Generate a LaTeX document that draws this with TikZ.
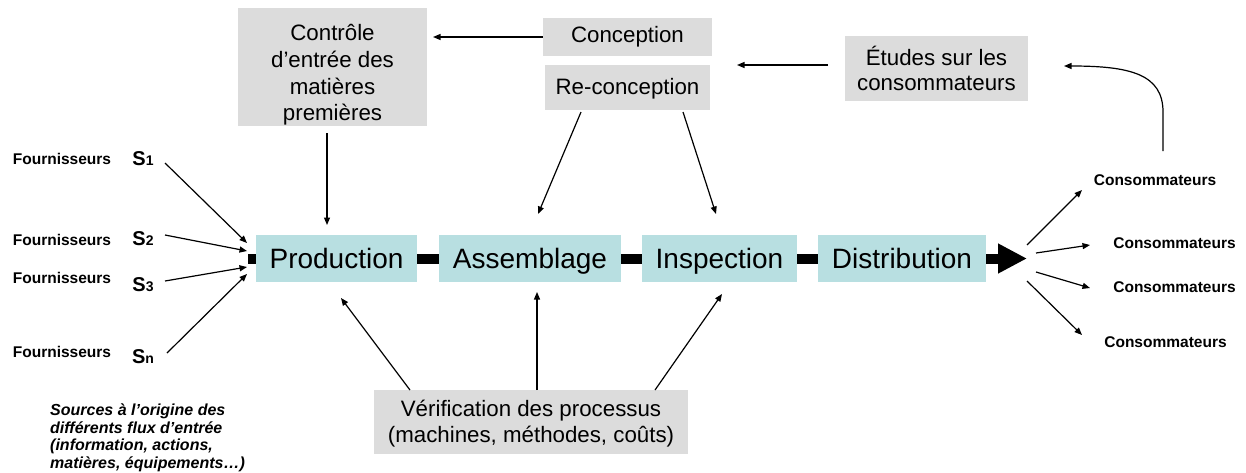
\documentclass[tikz,border=0pt]{standalone}
\usepackage{fontspec}
\setmainfont{Liberation Sans}
\usetikzlibrary{arrows.meta}
\definecolor{boxteal}{HTML}{B8DFE1}
\definecolor{boxgray}{HTML}{DCDCDC}
\begin{document}
\begin{tikzpicture}[x=1pt,y=-1pt,
  gbox/.style={fill=boxgray, inner sep=0pt, align=center, font=\fontsize{22.3}{26}\selectfont},
  tbox/.style={fill=boxteal, inner sep=0pt, minimum height=47pt, text height=22pt, text depth=2pt, font=\fontsize{28}{32}\selectfont},
  lbl/.style={inner sep=0pt, font=\fontsize{15.5}{18}\selectfont\bfseries},
  slbl/.style={inner sep=0pt},
  arr/.style={-{Triangle[length=7.5pt,width=6pt]}, line width=1.2pt},
  bar/.style={line width=10pt},
  bigarrow/.style={line width=10pt, -{Triangle[length=29pt,width=28pt]}}]
\useasboundingbox (0,0) rectangle (1246,472);

% top gray boxes
\node[gbox, minimum width=189pt, minimum height=118pt, font=\fontsize{22.3}{26.7}\selectfont] (ctrl) at (332.5,67) {\rule{0pt}{32pt}Contrôle\\d’entrée des\\matières\\premières};
\node[gbox, minimum width=169pt, minimum height=38pt] (conc) at (627.5,37) {Conception};
\node[gbox, minimum width=165pt, minimum height=45pt] (reconc) at (627.5,87.5) {\rule{0pt}{18pt}Re-conception};
\node[gbox, minimum width=183pt, minimum height=65pt, font=\fontsize{22.3}{25}\selectfont] (etud) at (936.5,68.5) {Études sur les\\consommateurs};
\node[gbox, minimum width=314pt, minimum height=64pt, font=\fontsize{22.3}{26.5}\selectfont] (verif) at (531,422) {\rule{0pt}{20pt}Vérification des processus\\(machines, méthodes, coûts)};

% process boxes
\node[tbox, minimum width=161pt] (prod) at (336.5,258.5) {Production};
\node[tbox, minimum width=182pt] (asm) at (530,258.5) {Assemblage};
\node[tbox, minimum width=155pt] (insp) at (719.5,258.5) {Inspection};
\node[tbox, minimum width=168pt] (dist) at (902,258.5) {Distribution};

% thick flow
\coordinate (stub) at (248,258.5);
\coordinate (tipR) at (1027,258.5);
\draw[bar] (stub) -- (prod.west);
\draw[bar] (prod.east) -- (asm.west);
\draw[bar] (asm.east) -- (insp.west);
\draw[bar] (insp.east) -- (dist.west);
\draw[bigarrow] (dist.east) -- (tipR);

% suppliers
\node[lbl] (f1) at (62,159) {Fournisseurs};
\node[lbl] (f2) at (62,240) {Fournisseurs};
\node[lbl] (f3) at (62,278) {Fournisseurs};
\node[lbl] (f4) at (62,352) {Fournisseurs};
\node[slbl] (s1) at (143,159) {\fontsize{20}{20}\selectfont\bfseries S\fontsize{14}{15}\selectfont 1};
\node[slbl] (s2) at (143,239) {\fontsize{20}{20}\selectfont\bfseries S\fontsize{14}{15}\selectfont 2};
\node[slbl] (s3) at (143,285) {\fontsize{20}{20}\selectfont\bfseries S\fontsize{14}{15}\selectfont 3};
\node[slbl] (sn) at (143,357) {\fontsize{20}{20}\selectfont\bfseries S\fontsize{14}{15}\selectfont n};

\coordinate (s1a) at (165,163); \coordinate (s1b) at (247,243);
\coordinate (s2a) at (165,235); \coordinate (s2b) at (247,251);
\coordinate (s3a) at (165,281); \coordinate (s3b) at (247,267);
\coordinate (sna) at (167,353); \coordinate (snb) at (247,274);
\draw[arr] (s1a) -- (s1b);
\draw[arr] (s2a) -- (s2b);
\draw[arr] (s3a) -- (s3b);
\draw[arr] (sna) -- (snb);

\node[inner sep=0pt, anchor=north west, align=left, font=\fontsize{16}{17.5}\selectfont\bfseries\itshape] (src) at (50,404)
  {Sources à l’origine des\\différents flux d’entrée\\(information, actions,\\matières, équipements…)};

% consumers
\node[lbl] (c1) at (1155,180) {Consommateurs};
\node[lbl] (c2) at (1174.5,243) {Consommateurs};
\node[lbl] (c3) at (1174.5,287) {Consommateurs};
\node[lbl] (c4) at (1165.5,342) {Consommateurs};
\coordinate (c1a) at (1027,245); \coordinate (c1b) at (1082,190);
\coordinate (c2a) at (1036,253); \coordinate (c2b) at (1090,245);
\coordinate (c3a) at (1036,272); \coordinate (c3b) at (1090,288);
\coordinate (c4a) at (1027,281); \coordinate (c4b) at (1082,335);
\draw[arr] (c1a) -- (c1b);
\draw[arr] (c2a) -- (c2b);
\draw[arr] (c3a) -- (c3b);
\draw[arr] (c4a) -- (c4b);

% top arrows
\coordinate (ctrlR) at (433,37);
\draw[arr] (conc.west |- 0,37) -- (ctrlR);
\coordinate (etA) at (828,65); \coordinate (etB) at (737,65);
\draw[arr] (etA) -- (etB);
\coordinate (cuA) at (1163,151); \coordinate (cuB) at (1163,112); \coordinate (cuC) at (1064,66);
\draw[arr] (cuA) -- (cuB) .. controls (1163,74) and (1130,66) .. (cuC);

\coordinate (ctA) at (327,133); \coordinate (ctB) at (327,225);
\draw[arr] (ctA) -- (ctB);
\coordinate (rcA) at (581,112); \coordinate (rcB) at (538,214);
\coordinate (rcC) at (683,112); \coordinate (rcD) at (716,214);
\draw[arr] (rcA) -- (rcB);
\draw[arr] (rcC) -- (rcD);

% verification arrows
\coordinate (vA) at (410,390); \coordinate (vB) at (341,298);
\coordinate (vC) at (537,390); \coordinate (vD) at (537,292);
\coordinate (vE) at (655,390); \coordinate (vF) at (722,294);
\draw[arr] (vA) -- (vB);
\draw[arr] (vC) -- (vD);
\draw[arr] (vE) -- (vF);
\end{tikzpicture}
\end{document}
